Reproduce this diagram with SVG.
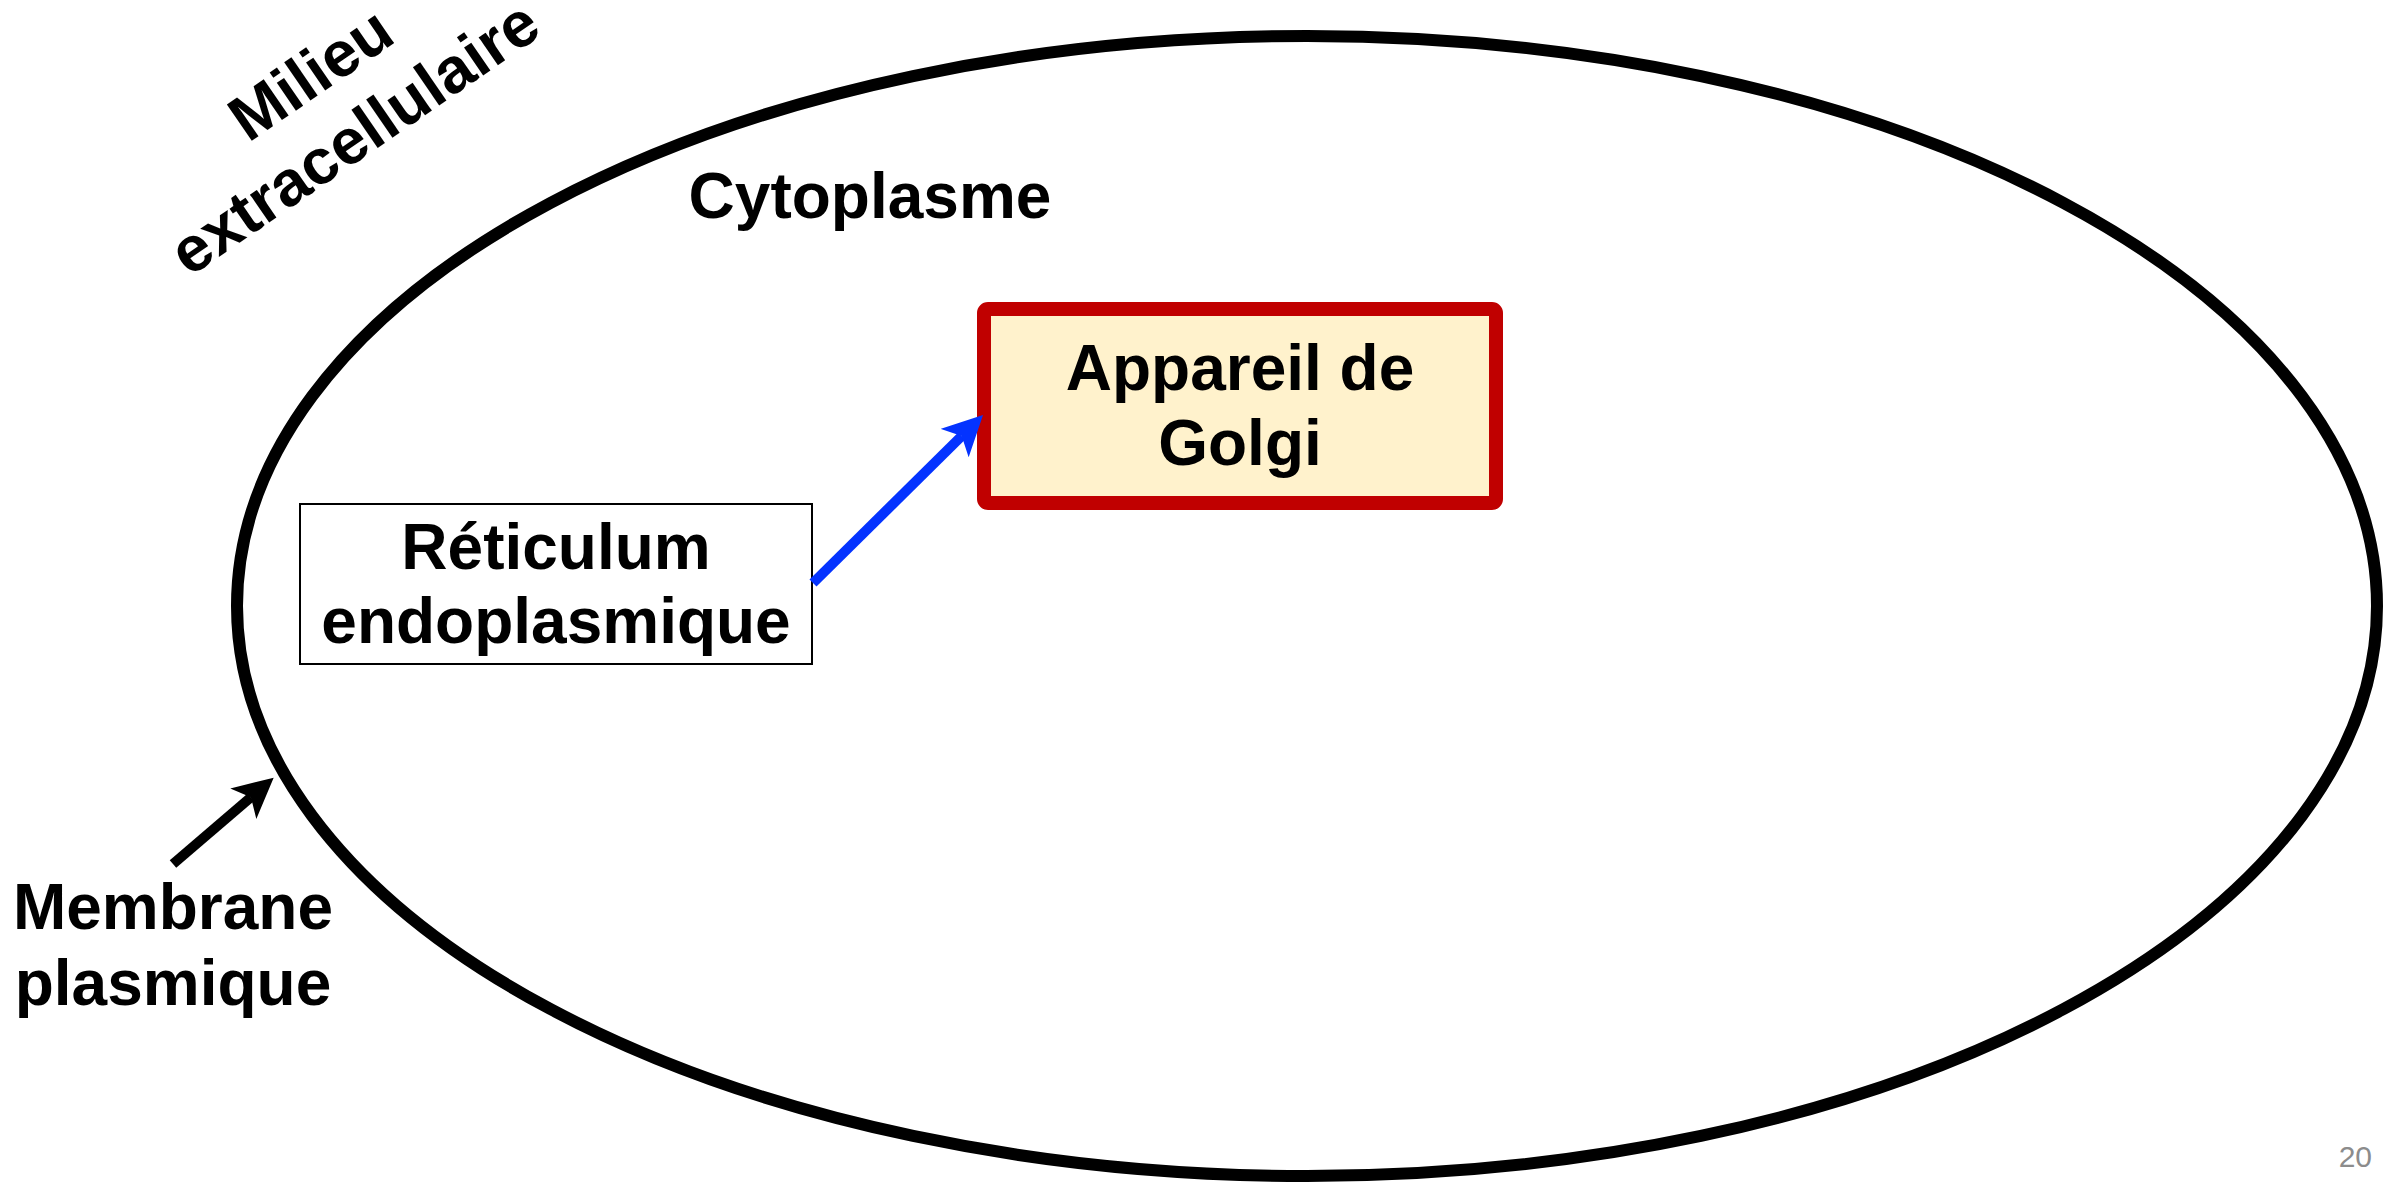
<svg xmlns="http://www.w3.org/2000/svg" width="2400" height="1182" viewBox="0 0 2400 1182">
  <style>
    .lbl { font-family: "Liberation Sans", Arial, Helvetica, sans-serif; font-weight: bold; font-size: 64px; fill: #000; text-anchor: middle; }
    .pg { font-family: "Liberation Sans", Arial, Helvetica, sans-serif; font-size: 30px; fill: #8c8c8c; text-anchor: end; }
    .cell { fill: none; stroke: #000; stroke-width: 12; }
    .golgi { fill: #FFF2CC; stroke: #C00000; stroke-width: 14; }
    .re { fill: #fff; stroke: #000; stroke-width: 2; }
    .conn-blue { stroke: #0433FF; stroke-width: 10; fill: none; }
    .conn-black { stroke: #000; stroke-width: 10; fill: none; }
  </style>
  <defs>
    <marker id="headBlue" viewBox="0 0 10 10" markerWidth="4" markerHeight="4" refX="2.5" refY="5" orient="auto" markerUnits="strokeWidth">
      <path d="M0,0 L10,5 L0,10 L2.5,5 z" fill="#0433FF"/>
    </marker>
    <marker id="headBlack" viewBox="0 0 10 10" markerWidth="4" markerHeight="4" refX="2.5" refY="5" orient="auto" markerUnits="strokeWidth">
      <path d="M0,0 L10,5 L0,10 L2.5,5 z" fill="#000"/>
    </marker>
  </defs>
  <rect x="0" y="0" width="2400" height="1182" fill="#fff"/>

  <g id="cell">
    <ellipse class="cell" cx="1307" cy="606" rx="1070" ry="570"/>
  </g>

  <g id="milieu-extracellulaire" transform="translate(323,92) rotate(-34.5)">
    <text class="lbl" x="0" y="0">Milieu</text>
    <text class="lbl" x="0" y="77">extracellulaire</text>
  </g>

  <g id="cytoplasme">
    <text class="lbl" x="870" y="218">Cytoplasme</text>
  </g>

  <g id="appareil-de-golgi">
    <rect class="golgi" x="984" y="309" width="512" height="194" rx="4"/>
    <text class="lbl" x="1240" y="390">Appareil de</text>
    <text class="lbl" x="1240" y="465">Golgi</text>
  </g>

  <g id="reticulum-endoplasmique">
    <rect class="re" x="300" y="504" width="512" height="160"/>
    <text class="lbl" x="556" y="569">Réticulum</text>
    <text class="lbl" x="556" y="643">endoplasmique</text>
  </g>

  <g id="membrane-plasmique">
    <text class="lbl" x="173" y="929">Membrane</text>
    <text class="lbl" x="173" y="1005">plasmique</text>
  </g>

  <g id="connectors">
    <line class="conn-blue" x1="813" y1="583" x2="961.7" y2="436" marker-end="url(#headBlue)"/>
    <line class="conn-black" x1="173" y1="864" x2="250.9" y2="797.2" marker-end="url(#headBlack)"/>
  </g>

  <text class="pg" x="2372" y="1167">20</text>
</svg>
